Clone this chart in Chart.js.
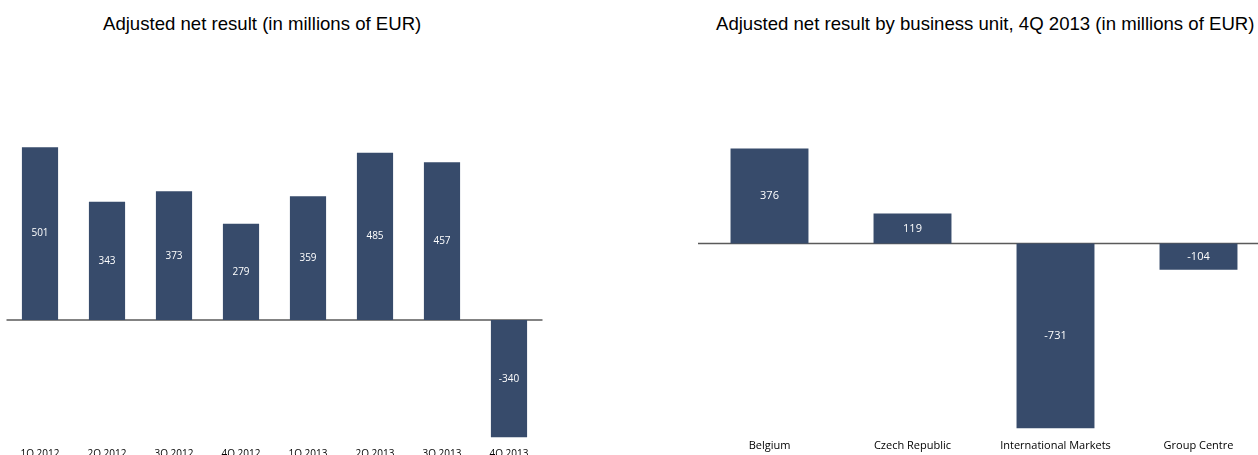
<!DOCTYPE html>
<html lang="en">
<head>
<meta charset="UTF-8" />
<title>Adjusted net result</title>
<script src="https://cdn.jsdelivr.net/npm/chart.js"></script>
<style>
    html, body { margin: 0; padding: 0; background: #fff; overflow: hidden; width: 1258px; height: 455px; }
    .titulo { position: absolute; top: 13px; font: 18.6px "Liberation Sans", Arial, sans-serif; color: #000; white-space: nowrap; }
    .caja { position: absolute; top: 0; }
</style>
</head>
<body>
    <div class="titulo" style="left:103px">Adjusted net result (in millions of EUR)</div>
    <div class="titulo" style="left:716px">Adjusted net result by business unit, 4Q 2013 (in millions of EUR)</div>

    <div class="caja" style="left:0; width:550px; height:463px"><canvas id="trimestres"></canvas></div>
    <div class="caja" style="left:690px; width:590px; height:455px"><canvas id="unidades"></canvas></div>

<script>
    // quarterly adjusted net result
    const trimestres = ['1Q 2012', '2Q 2012', '3Q 2012', '4Q 2012', '1Q 2013', '2Q 2013', '3Q 2013', '4Q 2013'];
    const resultadoTrim = [501, 343, 373, 279, 359, 485, 457, -340];

    // 4Q 2013 by business unit
    const unidades = ['Belgium', 'Czech Republic', 'International Markets', 'Group Centre'];
    const resultadoUnid = [376, 119, -731, -104];

    const azul = '#374b6b';
    const fuente = '"Open Sans", "DejaVu Sans", sans-serif';

    // zero line + value labels inside the bars
    const extras = {
        id: 'extras',
        beforeDatasetsDraw(chart) {
            const { ctx, chartArea, scales } = chart;
            const y0 = scales.y.getPixelForValue(0);
            ctx.save();
            ctx.strokeStyle = '#5a5a5a';
            ctx.lineWidth = 1.5;
            ctx.beginPath();
            ctx.moveTo(chartArea.left, y0);
            ctx.lineTo(chartArea.right, y0);
            ctx.stroke();
            ctx.restore();
        },
        afterDatasetsDraw(chart, args, opts) {
            const { ctx } = chart;
            const datos = chart.data.datasets[0].data;
            ctx.save();
            ctx.fillStyle = '#ffffff';
            ctx.font = opts.size + 'px ' + fuente;
            ctx.textAlign = 'center';
            ctx.textBaseline = 'middle';
            chart.getDatasetMeta(0).data.forEach((barra, i) => {
                ctx.fillText(String(datos[i]), barra.x, (barra.y + barra.base) / 2);
            });
            ctx.restore();
        }
    };

    function graficar(id, etiquetas, valores, ancho, yMin, yMax, pad, tam) {
        return new Chart(document.getElementById(id), {
            type: 'bar',
            data: {
                labels: etiquetas,
                datasets: [{
                    data: valores,
                    backgroundColor: azul,
                    barPercentage: ancho,
                    categoryPercentage: 1
                }]
            },
            options: {
                responsive: true,
                maintainAspectRatio: false,
                animation: false,
                layout: { padding: pad },
                plugins: { legend: { display: false }, tooltip: { enabled: false }, extras: { size: tam } },
                scales: {
                    x: {
                        grid: { display: false, drawTicks: false },
                        border: { display: false },
                        ticks: { color: '#000', font: { family: fuente, size: tam }, padding: 3, maxRotation: 0, autoSkip: false }
                    },
                    y: { display: false, min: yMin, max: yMax }
                }
            },
            plugins: [extras]
        });
    }

    graficar('trimestres', trimestres, resultadoTrim, 0.54, -362.3, 637.7, { left: 6.5, right: 7.5, top: 100, bottom: 0 }, 10);
    graficar('unidades', unidades, resultadoUnid, 0.545, -761.0, 567.9, { left: 8, right: 10, top: 100, bottom: 0 }, 11);
</script>
</body>
</html>
